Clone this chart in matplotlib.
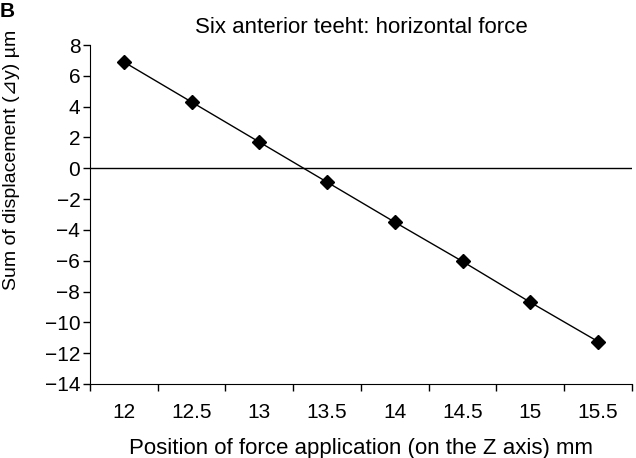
import matplotlib.pyplot as plt
import numpy as np

plt.rcParams["font.family"] = ["Liberation Sans", "DejaVu Sans"]

positions = ["12", "12.5", "13", "13.5", "14", "14.5", "15", "15.5"]
displacement = [6.9, 4.3, 1.7, -0.9, -3.5, -6.05, -8.7, -11.25]
y_ticks = list(range(-14, 9, 2))

fig = plt.figure(figsize=(6.36, 4.58), dpi=100)
ax = fig.add_axes([0.1415, 0.1616, 0.8522, 0.7401])

x = np.arange(len(positions))
ax.plot(x, displacement, color="black", linewidth=1.0, marker="D",
        markersize=7, markerfacecolor="black", markeredgecolor="black")
ax.axhline(0, color="black", linewidth=1.0)

ax.set_xlim(-0.5, len(positions) - 0.5)
ax.set_ylim(-14, 8)
ax.set_yticks(y_ticks)
ax.set_yticklabels([str(v).replace("-", "\u2212") for v in y_ticks])

# tick marks between categories, labels at the centres
ax.set_xticks(np.arange(-0.5, len(positions)))
ax.set_xticklabels([])
ax.set_xticks(x, minor=True)
ax.set_xticklabels(positions, minor=True)
ax.tick_params(axis="x", which="minor", length=0, pad=14, labelsize=15)
ax.tick_params(axis="x", which="major", length=5, width=1, direction="out")
ax.tick_params(axis="y", length=5, width=1, direction="out", labelsize=15, pad=2)

for side in ["top", "right"]:
    ax.spines[side].set_visible(False)

ax.set_title("Six anterior teeht: horizontal force", fontsize=16, pad=9)
ax.set_xlabel("Position of force application (on the Z axis) mm", fontsize=16, labelpad=11)
fig.text(0.018, 0.65, "Sum of displacement (\u22BFy) \u00b5m", fontsize=14,
         rotation=90, ha="center", va="center")
fig.text(0.0, 0.995, "B", fontsize=15, fontweight="bold", va="top", ha="left")

fig.savefig("out.png", dpi=100)
